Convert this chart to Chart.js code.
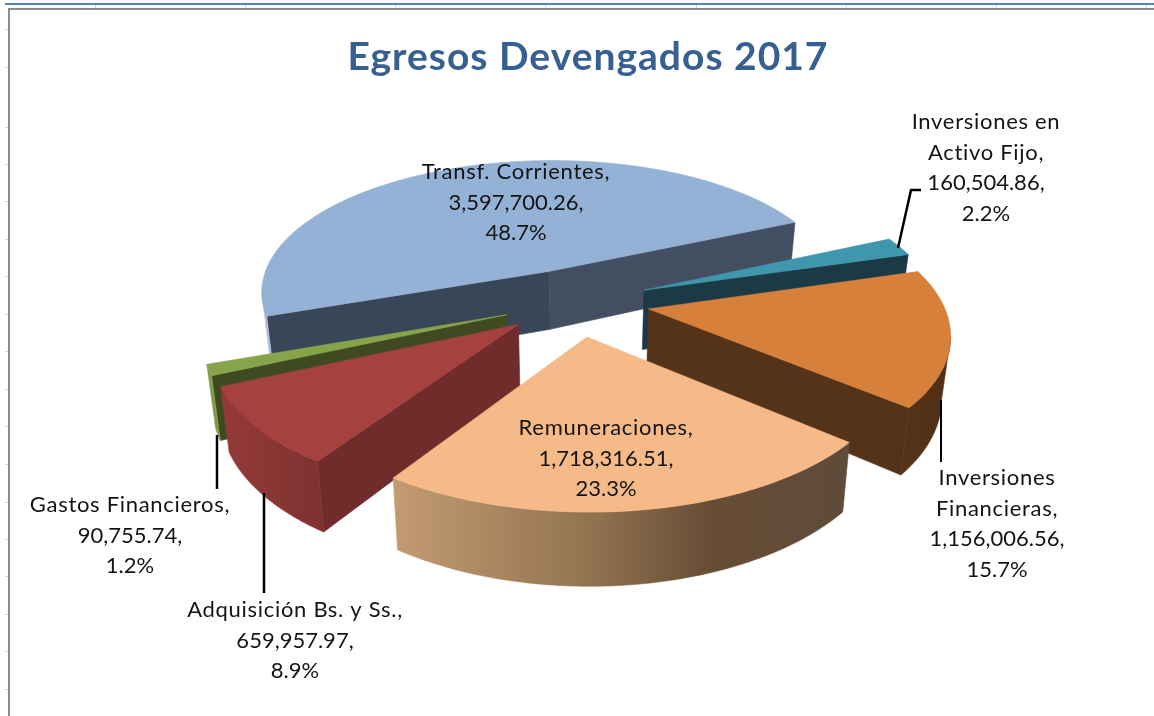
<!DOCTYPE html>
<html>
<head>
<meta charset="utf-8">
<title>Egresos Devengados 2017</title>
<script src="https://cdn.jsdelivr.net/npm/chart.js@4"></script>
<style>
  html, body { margin: 0; padding: 0; background: #fff; }
  canvas { display: block; }
</style>
</head>
<body>
<canvas id="pie" width="1154" height="716"></canvas>
<script>
// data
const chartTitle = 'Egresos Devengados 2017';
const categories = ['Transf. Corrientes', 'Inversiones en Activo Fijo', 'Inversiones Financieras', 'Remuneraciones', 'Adquisición Bs. y Ss.', 'Gastos Financieros'];
const values = [3597700.26, 160504.86, 1156006.56, 1718316.51, 659957.97, 90755.74];
const percents = ['48.7%', '2.2%', '15.7%', '23.3%', '8.9%', '1.2%'];
const nameLines = [['Transf. Corrientes,'], ['Inversiones en', 'Activo Fijo,'], ['Inversiones', 'Financieras,'], ['Remuneraciones,'], ['Adquisición Bs. y Ss.,'], ['Gastos Financieros,']];

// colours
const topColors = ['#94b2d6', '#3f97ae', '#d7803b', '#f6ba88', '#a5413f', '#88a44b'];
const startWall = ['#394658', '#1c3a45', '#553318', '#5f4b3a', '#6f2c2b', '#3f4a20'];
const endWall = ['#434f61', '#1c3a45', '#553318', '#5f4b3a', '#6f2c2b', '#3f4a20'];
const arcWall = [
  [[0, '#a9c0dc'], [1, '#a9c0dc']],
  [[0, '#2c6e82'], [1, '#2c6e82']],
  [[0, '#553318'], [1, '#4f2f15']],
  [[0, '#c39b72'], [0.45, '#90714f'], [0.7, '#674c35'], [1, '#5f4b3a']],
  [[0, '#943a38'], [1, '#7f3230']],
  [[0, '#7f9b45'], [1, '#7f9b45']]
];
const paintOrder = [0, 1, 2, 5, 4, 3];

// label placement: centre x, y of first line
const labelPos = [[516, 172], [986, 122], [997, 478], [606, 428], [295, 610], [130, 505]];
const lineGap = 30.6;
const leaders = [
  { w: 2.5, pts: [[898, 248], [911, 190], [921, 190]] },
  { w: 2, pts: [[941, 400], [941, 462]] },
  { w: 2.5, pts: [[264, 493], [264, 593]] },
  { w: 2.5, pts: [[217, 435], [217, 489]] }
];

// spreadsheet ticks behind the chart
const rowTicks = [29, 67, 127, 164, 201, 239, 276, 314, 351, 389, 426, 464, 502, 539, 576, 614, 651, 689];
const colTicks = [95, 245, 395, 545, 696, 846, 996, 1146];

// tilted view of the pie, unit radius -> screen
const view = [306.34566, 16.06872, 575.99719, -30.24324, 84.93614, 301.88168, 0.05121, -0.14423];
const explode = 0.24989;

function project(X, Y) {
  const w = 1 + view[6] * X + view[7] * Y;
  return [(view[0] * X + view[1] * Y + view[2]) / w, (view[3] * X + view[4] * Y + view[5]) / w, w];
}

// same point on the underside of the slab
function lower(p) {
  return [p[0] + (575 - p[0]) * 0.024, p[1] + 60 / p[2]];
}

function fillPoly(ctx, pts, color) {
  ctx.beginPath();
  pts.forEach((p, i) => i ? ctx.lineTo(p[0], p[1]) : ctx.moveTo(p[0], p[1]));
  ctx.closePath();
  ctx.fillStyle = color;
  ctx.strokeStyle = color;
  ctx.lineWidth = 0.6;
  ctx.fill();
  ctx.stroke();
}

function drawSlice(ctx, arc, i) {
  const a0 = arc.startAngle, a1 = arc.endAngle, mid = (a0 + a1) / 2;
  // library gives offset in px and applies a quarter of it
  const off = arc.options.offset / 4 / arc.outerRadius;
  const ox = Math.cos(mid) * off, oy = Math.sin(mid) * off;
  const apex = project(ox, oy);
  const rim = [];
  const steps = 90;
  for (let k = 0; k <= steps; k++) {
    const t = a0 + (a1 - a0) * k / steps;
    rim.push(project(ox + Math.cos(t), oy + Math.sin(t)));
  }
  const S = rim[0], E = rim[steps];

  // only faces whose edge runs leftwards look at the viewer
  if (S[0] < apex[0]) fillPoly(ctx, [apex, S, lower(S), lower(apex)], startWall[i]);
  if (apex[0] < E[0]) fillPoly(ctx, [E, apex, lower(apex), lower(E)], endWall[i]);

  let run = [];
  const flush = () => {
    if (run.length > 1) {
      const x0 = Math.min(...run.map(p => p[0])), x1 = Math.max(...run.map(p => p[0]));
      const g = ctx.createLinearGradient(x0, 0, x1, 0);
      arcWall[i].forEach(s => g.addColorStop(s[0], s[1]));
      fillPoly(ctx, run.concat(run.map(lower).reverse()), g);
    }
    run = [];
  };
  for (let k = 0; k < steps; k++) {
    if (rim[k + 1][0] < rim[k][0]) {
      if (!run.length) run.push(rim[k]);
      run.push(rim[k + 1]);
    } else flush();
  }
  flush();

  fillPoly(ctx, [apex].concat(rim), arc.options.backgroundColor);
}

const pie3d = {
  id: 'pie3d',
  beforeDraw(chart) {
    const ctx = chart.ctx;
    ctx.save();
    ctx.fillStyle = '#ffffff';
    ctx.fillRect(0, 0, 1154, 716);
    ctx.fillStyle = '#d6d6d6';
    rowTicks.forEach(y => ctx.fillRect(5, y, 3, 1));
    colTicks.forEach(x => ctx.fillRect(x, 5, 1, 3));
    ctx.fillStyle = '#4f81bd';
    ctx.fillRect(5, 3, 1149, 2);
    ctx.fillStyle = '#8c8c8c';
    ctx.fillRect(8, 8, 1146, 2);
    ctx.fillRect(8, 8, 2, 708);
    ctx.restore();
    ctx.letterSpacing = '1px'; // title runs wider than Lato
  },
  beforeDatasetDraw() {
    return false; // slices are painted tilted below
  },
  afterDatasetsDraw(chart) {
    const ctx = chart.ctx;
    const arcs = chart.getDatasetMeta(0).data;
    ctx.save();
    paintOrder.forEach(i => drawSlice(ctx, arcs[i], i));

    ctx.strokeStyle = '#000000';
    ctx.lineJoin = 'round';
    leaders.forEach(l => {
      ctx.lineWidth = l.w;
      ctx.beginPath();
      l.pts.forEach((p, k) => k ? ctx.lineTo(p[0], p[1]) : ctx.moveTo(p[0], p[1]));
      ctx.stroke();
    });

    ctx.fillStyle = '#141414';
    ctx.font = '22px Lato';
    ctx.textAlign = 'center';
    ctx.textBaseline = 'middle';
    categories.forEach((name, i) => {
      const amount = values[i].toLocaleString('en-US', { minimumFractionDigits: 2 }) + ',';
      const names = nameLines[i].length;
      nameLines[i].concat([amount, percents[i]]).forEach((line, k) => {
        ctx.letterSpacing = k < names ? '0.7px' : '0px';
        ctx.fillText(line, labelPos[i][0], labelPos[i][1] + k * lineGap);
      });
    });
    ctx.restore();
    ctx.letterSpacing = '0px';
  }
};

new Chart(document.getElementById('pie'), {
  type: 'pie',
  data: {
    labels: categories,
    datasets: [{
      data: values,
      backgroundColor: topColors,
      borderWidth: 0,
      offset: 40
    }]
  },
  options: {
    responsive: false,
    animation: false,
    rotation: 270,
    radius: 160,
    layout: { padding: { left: 22 } },
    plugins: {
      legend: { display: false },
      tooltip: { enabled: false },
      title: {
        display: true,
        text: chartTitle,
        color: '#366092',
        font: { family: 'Lato', size: 39, weight: 'bold' },
        padding: { top: 34, bottom: 10 }
      }
    }
  },
  plugins: [pie3d]
});

// offset has to stay proportional to the radius the library settled on
const chart = Chart.getChart('pie');
chart.data.datasets[0].offset = 4 * explode * chart.getDatasetMeta(0).data[0].outerRadius;
chart.update();
</script>
</body>
</html>
